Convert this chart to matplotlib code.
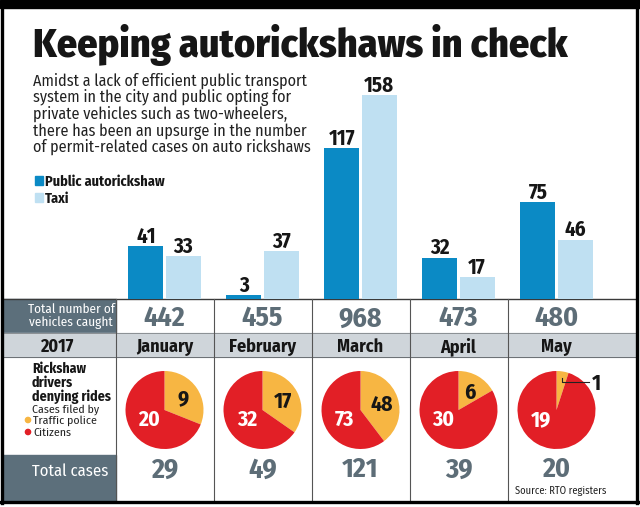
import numpy as np
import matplotlib
matplotlib.use('Agg')
import matplotlib.pyplot as plt
from matplotlib import font_manager as fm
from matplotlib.patches import Rectangle, Circle

# ---------------- data ----------------
months = ['January', 'February', 'March', 'April', 'May']
year_label = '2017'
public_auto = [41, 3, 117, 32, 75]
taxi = [33, 37, 158, 17, 46]
vehicles_caught = [442, 455, 968, 473, 480]
traffic_police = [9, 17, 48, 6, 1]
citizens = [20, 32, 73, 30, 19]
total_cases = [29, 49, 121, 39, 20]

title = 'Keeping autorickshaws in check'
subtitle = ['Amidst a lack of efficient public transport',
            'system in the city and public opting for',
            'private vehicles such as two-wheelers,',
            'there has been an upsurge in the number',
            'of permit-related cases on auto rickshaws']
legend_labels = ['Public autorickshaw', 'Taxi']
source = 'Source: RTO registers'

# ---------------- style ----------------
BLUE = '#0b8ac5'
LIGHT = '#bfe0f2'
RED = '#e21f26'
YEL = '#f7b643'
SLATE = '#5c6f7b'
GREY_NUM = '#5d6d77'
BAND = '#cfd5da'
INK = '#161616'

ttf = fm.fontManager.ttflist
avail = {f.name for f in ttf}
FAM, STRETCH = 'DejaVu Sans', 'normal'
for n in ['Fira Sans Condensed', 'Roboto Condensed', 'Asap Condensed', 'Liberation Sans Narrow']:
    if n in avail:
        FAM = n
        break
else:
    if any(f.name == 'DejaVu Sans' and str(f.stretch) in ('condensed', 'semi-condensed') for f in ttf):
        FAM, STRETCH = 'DejaVu Sans', 'condensed'
FONT = dict(family=FAM, stretch=STRETCH)

W, H = 640, 507
fig = plt.figure(figsize=(6.4, 5.07), dpi=100)
bg = fig.add_axes([0, 0, 1, 1], zorder=0)
bg.set_xlim(0, W)
bg.set_ylim(H, 0)
bg.axis('off')


def fax(l, t, w, h, z=2):
    return fig.add_axes([l / W, 1 - (t + h) / H, w / W, h / H], zorder=z)


X0, CW = 115.5, 98.0
TOP, R1, R2, R3, BOT = 299, 333, 357, 455, 502
centers = [X0 + CW * (i + 0.5) for i in range(len(months))]

# ---------------- frame & table ----------------
bg.add_patch(Rectangle((0, 0), W, 8, color='black', zorder=5))
bg.plot([2, 2], [0, BOT + 1], color='black', lw=2.4, zorder=5)
bg.plot([636.5, 636.5], [0, BOT + 1], color='black', lw=2.4, zorder=5)
bg.plot([0, 638], [BOT, BOT], color='black', lw=2.4, zorder=5)

bg.add_patch(Rectangle((3, TOP), X0 - 3, R1 - TOP, color=SLATE, zorder=1))
bg.add_patch(Rectangle((3, R3), X0 - 3, BOT - R3, color=SLATE, zorder=1))
bg.add_patch(Rectangle((3, R1), 633, R2 - R1, color=BAND, zorder=1))
bg.plot([3, 636], [TOP, TOP], color='#3a3a3a', lw=1.0, zorder=3)
bg.plot([3, 636], [R1, R1], color='#8a8f93', lw=0.7, zorder=3)
bg.plot([3, 636], [R2, R2], color='#6a6f73', lw=0.7, zorder=3)
for k in range(len(months)):
    xl = X0 + CW * k
    bg.plot([xl, xl], [TOP, BOT], color='#555555', lw=0.8, zorder=3)

# ---------------- titles ----------------
t_title = bg.text(33, 57, title, fontsize=30, weight='heavy', color=INK,
                  ha='left', va='baseline', **FONT)
sub_texts = []
for j, line in enumerate(subtitle):
    sub_texts.append(bg.text(33, 86 + 16.5 * j, line, fontsize=12, color='#222222',
                             ha='left', va='baseline', **FONT))

bg.add_patch(Rectangle((35, 175.5), 8, 9, color=BLUE))
bg.add_patch(Rectangle((35, 192.5), 8, 9, color=LIGHT))
leg_texts = []
for j, lab in enumerate(legend_labels):
    leg_texts.append(bg.text(45, 180 + 17 * j, lab, fontsize=10.5, weight='bold', color=INK,
                             ha='left', va='center_baseline', **FONT))

# ---------------- bars ----------------
bax = fax(X0, TOP - 219, CW * len(months), 219)
bax.set_xlim(-0.5, len(months) - 0.5)
bax.set_ylim(0, 170)
bax.axis('off')
x = np.arange(len(months))
bw = 0.357
for vals, col, off in [(public_auto, BLUE, -0.19), (taxi, LIGHT, 0.19)]:
    bars = bax.bar(x + off, vals, width=bw, color=col, linewidth=0)
    for rect, v in zip(bars, vals):
        bax.annotate(str(v), (rect.get_x() + rect.get_width() / 2, v), xytext=(0, 2.4),
                     textcoords='offset points', ha='center', va='baseline',
                     fontsize=15, weight='bold', color=INK, **FONT)

# ---------------- table rows ----------------
bg.text(71, 316, 'Total number of\nvehicles caught', fontsize=9.5, color='white',
        ha='center', va='center', linespacing=1.0, **FONT)
bg.text(57, 345, year_label, fontsize=13, weight='bold', color=INK,
        ha='center', va='center_baseline', **FONT)
bg.text(32, 362, 'Rickshaw\ndrivers\ndenying rides', fontsize=10, weight='bold', color=INK,
        ha='left', va='top', linespacing=0.95, **FONT)
bg.text(32, 408, 'Cases filed by', fontsize=8.5, color='#222222', ha='left',
        va='center_baseline', **FONT)
bg.add_patch(Circle((28, 420), 2.6, color=YEL))
bg.text(33, 420, 'Traffic police', fontsize=8.5, color='#222222', ha='left',
        va='center_baseline', **FONT)
bg.add_patch(Circle((28, 432), 2.6, color=RED))
bg.text(33, 432, 'Citizens', fontsize=8.5, color='#222222', ha='left',
        va='center_baseline', **FONT)
bg.text(32, 470, 'Total cases', fontsize=12, color='white', ha='left',
        va='center_baseline', **FONT)

for i, cx in enumerate(centers):
    bg.text(cx, 316, str(vehicles_caught[i]), fontsize=20, weight='bold', color=GREY_NUM,
            ha='center', va='center_baseline', zorder=4, **FONT)
    bg.text(cx, 345, months[i], fontsize=13, weight='bold', color=INK,
            ha='center', va='center_baseline', zorder=4, **FONT)
    bg.text(cx, 467, str(total_cases[i]), fontsize=20, weight='bold', color=GREY_NUM,
            ha='center', va='center_baseline', zorder=4, **FONT)
bg.text(515, 490, source, fontsize=7.5, color='#222222', ha='left',
        va='center_baseline', **FONT)

# ---------------- pies ----------------
PR = 39
for i, cx in enumerate(centers):
    pax = fax(cx - PR, 410 - PR, 2 * PR, 2 * PR, z=3)
    tp, cz = traffic_police[i], citizens[i]
    wedges, _ = pax.pie([tp, cz], colors=[YEL, RED], startangle=90, counterclock=False,
                        radius=1, wedgeprops=dict(linewidth=0))
    pax.set_xlim(-1, 1)
    pax.set_ylim(-1, 1)
    pax.set_aspect('equal')
    mid = np.deg2rad((wedges[0].theta1 + wedges[0].theta2) / 2)
    frac = tp / (tp + cz)
    if frac >= 0.1:
        pax.text(0.58 * np.cos(mid), 0.58 * np.sin(mid), str(tp), fontsize=15.5,
                 weight='bold', color=INK, ha='center', va='center_baseline', **FONT)
    else:
        axx, ayy = 0.82 * np.cos(mid), 0.82 * np.sin(mid)
        pax.plot([axx, axx, 0.84], [ayy, 0.72, 0.72], color='#222222', lw=0.8, clip_on=False)
        pax.text(0.9, 0.72, str(tp), fontsize=15.5, weight='bold', color=INK,
                 ha='left', va='center_baseline', clip_on=False, **FONT)
    pax.text(-0.4, -0.2, str(cz), fontsize=15.5, weight='bold', color='white',
             ha='center', va='center_baseline', **FONT)

# ---------------- fit long texts to reference widths ----------------
fig.canvas.draw()
rend = fig.canvas.get_renderer()


def fit(t, width):
    bb = t.get_window_extent(rend)
    t.set_fontsize(t.get_fontsize() * width / bb.width)


fit(t_title, 534)
fit(sub_texts[0], 275)
for t in sub_texts[1:]:
    t.set_fontsize(sub_texts[0].get_fontsize())
fit(leg_texts[0], 120)
leg_texts[1].set_fontsize(leg_texts[0].get_fontsize())

fig.savefig('out.png', dpi=100)
